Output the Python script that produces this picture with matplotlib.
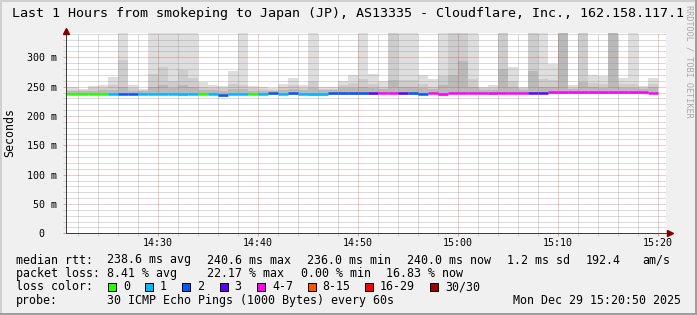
import matplotlib
matplotlib.use('Agg')
import matplotlib.pyplot as plt
import matplotlib.transforms as mtransforms
from matplotlib.patches import Rectangle

W, H, DPI = 697, 315, 100

# end of each 1-minute step, in minutes after 14:00
minutes = list(range(21, 81))

# median rtt (ms) per step
median_ms = [
    237.5, 237.5, 237.5, 237.5, 237.5,
    237.8, 238.2, 238.0, 237.8, 237.8,
    237.8, 237.8, 237.2, 237.8, 237.5,
    237.6, 236.0, 237.8, 237.8, 237.6,
    237.4, 238.6, 238.0, 238.8, 238.0,
    237.4, 237.4, 238.4, 238.4, 238.4,
    238.8, 239.0, 239.5, 239.5, 239.2,
    238.6, 238.2, 239.6, 237.6, 239.8,
    239.8, 239.8, 239.8, 238.4, 240.0,
    240.0, 240.0, 239.8, 239.8, 240.2,
    240.2, 240.2, 240.6, 240.2, 240.2,
    240.6, 240.2, 240.2, 240.2, 240.0,
]

# lost pings (of 30) per step
loss = [
    0, 0, 0, 0, 0,
    1, 2, 2, 1, 1,
    1, 1, 1, 1, 0,
    1, 2, 1, 1, 0,
    1, 2, 1, 2, 1,
    1, 1, 2, 2, 2,
    2, 3, 4, 5, 3,
    2, 2, 5, 4, 4,
    5, 4, 5, 5, 4,
    5, 4, 3, 3, 5,
    6, 4, 5, 4, 5,
    6, 5, 4, 5, 5,
]

# smoke: slowest ping, outer-mid and inner ping levels, fastest ping (ms)
smoke_top = [
    249, 249, 246, 251, 252,
    267, 400, 252, 246, 400,
    400, 400, 400, 400, 258,
    253, 251, 276, 400, 251,
    249, 247, 255, 265, 253,
    400, 249, 249, 259, 270,
    400, 272, 259, 400, 400,
    400, 270, 263, 400, 400,
    400, 400, 250, 253, 400,
    284, 250, 400, 400, 288,
    400, 252, 400, 270, 268,
    400, 265, 400, 251, 265,
]
smoke_mid = [
    245, 245, 244, 247, 248,
    252, 296, 247, 244, 271,
    283, 260, 279, 264, 250,
    248, 247, 255, 252, 247,
    246, 245, 249, 252, 248,
    259, 246, 246, 252, 256,
    263, 255, 250, 400, 262,
    262, 255, 250, 268, 400,
    400, 263, 247, 248, 400,
    260, 247, 400, 263, 262,
    400, 248, 400, 256, 255,
    400, 254, 255, 248, 255,
]
smoke_inner = [
    242, 242, 242, 243, 244,
    245, 250, 243, 242, 250,
    252, 248, 252, 250, 245,
    244, 243, 246, 246, 243,
    243, 243, 245, 246, 245,
    248, 244, 244, 247, 248,
    250, 247, 246, 262, 250,
    250, 248, 246, 252, 270,
    293, 250, 245, 245, 280,
    250, 245, 277, 250, 250,
    400, 246, 258, 249, 248,
    400, 248, 248, 246, 249,
]
smoke_low = [
    235, 235, 235, 235, 235,
    235, 235, 235, 235, 235,
    235, 235, 234, 235, 235,
    235, 233, 235, 235, 235,
    235, 236, 235, 236, 235,
    234, 234, 236, 236, 236,
    236, 236, 237, 237, 236,
    236, 235, 237, 234, 237,
    237, 237, 237, 235, 237,
    237, 237, 237, 237, 237,
    237, 237, 237, 237, 237,
    237, 237, 237, 237, 237,
]

loss_labels = ['0', '1', '2', '3', '4-7', '8-15', '16-29', '30/30']
loss_colors = ['#26ff00', '#00b8ff', '#0059ff', '#5e00ff',
               '#ff00ff', '#ff5500', '#ff0000', '#a00000']
loss_lower = [0, 1, 2, 3, 4, 8, 16, 30]

y_ticks = [0, 50, 100, 150, 200, 250, 300]
y_tick_labels = ['0  ', '50 m', '100 m', '150 m', '200 m', '250 m', '300 m']
x_ticks = [30, 40, 50, 60, 70, 80]
x_tick_labels = ['14:30', '14:40', '14:50', '15:00', '15:10', '15:20']

title = ('Last 1 Hours from smokeping to Japan (JP), AS13335 - '
         'Cloudflare, Inc., 162.158.117.1')


def loss_color(n):
    idx = 0
    for i, lo in enumerate(loss_lower):
        if n >= lo:
            idx = i
    return loss_colors[idx]


def px(x, y):
    # image pixel -> figure fraction
    return x / W, 1 - y / H


plt.rcParams['font.family'] = 'DejaVu Sans Mono'

fig = plt.figure(figsize=(W / DPI, H / DPI), dpi=DPI, facecolor='#f0f0f0')

# rrdtool style shaded border
fig.add_artist(Rectangle((0, 0), 2 / W, 1, transform=fig.transFigure,
                         color='#cfcfcf', lw=0))
fig.add_artist(Rectangle((0, 1 - 2 / H), 1, 2 / H, transform=fig.transFigure,
                         color='#cfcfcf', lw=0))
fig.add_artist(Rectangle((1 - 2 / W, 0), 2 / W, 1, transform=fig.transFigure,
                         color='#9e9e9e', lw=0))
fig.add_artist(Rectangle((0, 0), 1, 2 / H, transform=fig.transFigure,
                         color='#9e9e9e', lw=0))

x0, y_zero, y_top = 66, 233.3, 33
ax = fig.add_axes([x0 / W, (H - y_zero) / H, 600 / W, (y_zero - y_top) / H])
ax.set_facecolor('white')
ax.set_xlim(20.8, 80.8)
ax.set_ylim(0, 341.5)

left = [m - 1 for m in minutes]
layers = [(smoke_top, '#dedede'), (smoke_mid, '#cdcdcd'),
          (smoke_inner, '#b9b9b9')]
for level, col in layers:
    ax.bar(left, [t - b for t, b in zip(level, smoke_low)], width=1.0,
           bottom=smoke_low, align='edge', color=col, linewidth=0, zorder=1)

ax.hlines(median_ms, left, minutes, colors=[loss_color(n) for n in loss],
          linewidth=1.8, zorder=3)

# grid
ax.set_xticks(x_ticks)
ax.set_xticklabels(x_tick_labels)
ax.set_xticks(list(range(22, 81, 2)), minor=True)
ax.set_yticks(y_ticks)
ax.set_yticklabels(y_tick_labels)
ax.set_yticks(list(range(10, 341, 10)), minor=True)
ax.set_axisbelow(False)
ax.grid(which='minor', color='#8f8f8f', alpha=0.65, linestyle=(0, (1, 1)),
        linewidth=0.72)
ax.grid(which='major', color='#c02020', alpha=0.45, linestyle=(0, (1, 1)),
        linewidth=0.72)
ax.tick_params(which='both', direction='out', length=2.2, width=0.72,
               labelsize=7.2)
ax.tick_params(which='major', color='#e0a0a0')
ax.tick_params(which='minor', color='#d0d0d0')
ax.tick_params(axis='y', pad=4.5)
ax.tick_params(axis='x', pad=1.2)

for side in ['top', 'right']:
    ax.spines[side].set_visible(False)
for side in ['left', 'bottom']:
    ax.spines[side].set_color('#404040')
    ax.spines[side].set_linewidth(0.72)
    ax.spines[side].set_zorder(4)

up = mtransforms.offset_copy(ax.transAxes, fig=fig, x=0, y=2.5, units='dots')
ax.plot([0], [1], marker='^', markersize=4.5, color='#800000',
        transform=up, clip_on=False, zorder=5)
rt = mtransforms.offset_copy(ax.transAxes, fig=fig, x=4, y=0, units='dots')
ax.plot([1], [0], marker='>', markersize=4.5, color='#800000',
        transform=rt, clip_on=False, zorder=5)

# texts
fig.text(*px(348, 14), title, ha='center', va='center', fontsize=9.6)
fig.text(*px(10, 132), 'Seconds', rotation=90, ha='center', va='center',
         fontsize=8.4)
fig.text(*px(688.5, 61), 'RRDTOOL / TOBI OETIKER', rotation=270,
         ha='center', va='center', fontsize=6.1, color='#a8a8a8')

fs = 8.4
row1 = [(16, 'median rtt:'), (107, '238.6 ms avg'), (207, '240.6 ms max'),
        (307, '236.0 ms min'), (407, '240.0 ms now'), (507, '1.2 ms sd'),
        (586, '192.4'), (642, 'am/s')]
row2 = [(16, 'packet loss:'), (107, '8.41 % avg'), (207, '22.17 % max'),
        (301, '0.00 % min'), (386, '16.83 % now')]
for y, row in [(260, row1), (273.5, row2)]:
    for x, s in row:
        fig.text(*px(x, y), s, ha='left', va='center', fontsize=fs)

fig.text(*px(16, 287), 'loss color:', ha='left', va='center', fontsize=fs)
box_x = [108, 145, 182, 219.5, 257, 307.5, 365, 430]
for bx, lab, col in zip(box_x, loss_labels, loss_colors):
    fig.add_artist(Rectangle(px(bx, 291), 8 / W, 8 / H,
                             transform=fig.transFigure, facecolor=col,
                             edgecolor='black', linewidth=0.72))
    fig.text(*px(bx + 15, 287), lab, ha='left', va='center', fontsize=fs)

fig.text(*px(16, 300.5), 'probe:', ha='left', va='center', fontsize=fs)
fig.text(*px(107, 300.5), '30 ICMP Echo Pings (1000 Bytes) every 60s',
         ha='left', va='center', fontsize=fs)
fig.text(*px(681, 300.5), 'Mon Dec 29 15:20:50 2025', ha='right',
         va='center', fontsize=fs)

fig.savefig('out.png', dpi=DPI, facecolor=fig.get_facecolor())
